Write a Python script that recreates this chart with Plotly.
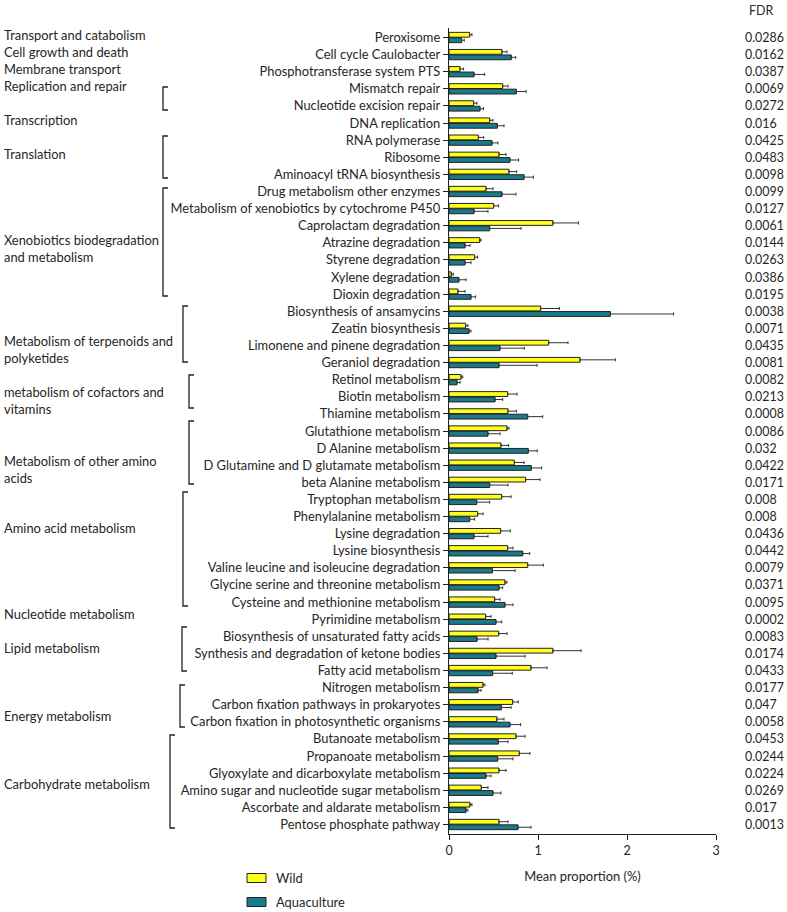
import plotly.graph_objects as go

pathways = [
    "Peroxisome", "Cell cycle Caulobacter", "Phosphotransferase system PTS",
    "Mismatch repair", "Nucleotide excision repair", "DNA replication",
    "RNA polymerase", "Ribosome", "Aminoacyl tRNA biosynthesis",
    "Drug metabolism other enzymes", "Metabolism of xenobiotics by cytochrome P450",
    "Caprolactam degradation", "Atrazine degradation", "Styrene degradation",
    "Xylene degradation", "Dioxin degradation",
    "Biosynthesis of ansamycins", "Zeatin biosynthesis",
    "Limonene and pinene degradation", "Geraniol degradation",
    "Retinol metabolism", "Biotin metabolism", "Thiamine metabolism",
    "Glutathione metabolism", "D Alanine metabolism",
    "D Glutamine and D glutamate metabolism", "beta Alanine metabolism",
    "Tryptophan metabolism", "Phenylalanine metabolism", "Lysine degradation",
    "Lysine biosynthesis", "Valine leucine and isoleucine degradation",
    "Glycine serine and threonine metabolism", "Cysteine and methionine metabolism",
    "Pyrimidine metabolism",
    "Biosynthesis of unsaturated fatty acids", "Synthesis and degradation of ketone bodies",
    "Fatty acid metabolism",
    "Nitrogen metabolism", "Carbon fixation pathways in prokaryotes",
    "Carbon fixation in photosynthetic organisms",
    "Butanoate metabolism", "Propanoate metabolism",
    "Glyoxylate and dicarboxylate metabolism", "Amino sugar and nucleotide sugar metabolism",
    "Ascorbate and aldarate metabolism", "Pentose phosphate pathway",
]

wild_mean = [
    0.232, 0.595, 0.124, 0.603, 0.277, 0.457, 0.330, 0.562, 0.674,
    0.416, 0.502, 1.168, 0.345, 0.288, 0.026, 0.101,
    1.030, 0.187, 1.120, 1.472,
    0.135, 0.659, 0.663,
    0.652, 0.584, 0.734, 0.861,
    0.592, 0.322, 0.580, 0.659, 0.884, 0.629, 0.513,
    0.412,
    0.558, 1.168, 0.921,
    0.382, 0.715, 0.539,
    0.753, 0.790, 0.562, 0.363, 0.236, 0.562,
]
wild_err = [
    0.026, 0.056, 0.040, 0.060, 0.037, 0.037, 0.060, 0.079, 0.086,
    0.079, 0.056, 0.288, 0.015, 0.034, 0.022, 0.079,
    0.210, 0.026, 0.217, 0.397,
    0.019, 0.105, 0.094,
    0.022, 0.086, 0.109, 0.161,
    0.105, 0.060, 0.109, 0.060, 0.176, 0.022, 0.060,
    0.060,
    0.094, 0.315, 0.180,
    0.022, 0.064, 0.079,
    0.101, 0.120, 0.079, 0.075, 0.022, 0.101,
]
aqua_mean = [
    0.142, 0.700, 0.281, 0.757, 0.348, 0.543, 0.483, 0.685, 0.843,
    0.595, 0.281, 0.457, 0.180, 0.180, 0.112, 0.247,
    1.813, 0.225, 0.573, 0.562,
    0.090, 0.517, 0.884,
    0.438, 0.891, 0.925, 0.457,
    0.311, 0.232, 0.281, 0.828, 0.487, 0.562, 0.629,
    0.528,
    0.315, 0.528, 0.490,
    0.326, 0.588, 0.685,
    0.554, 0.547, 0.416, 0.494, 0.191, 0.775,
]
aqua_err = [
    0.030, 0.050, 0.120, 0.110, 0.040, 0.075, 0.067, 0.097, 0.105,
    0.157, 0.157, 0.352, 0.056, 0.067, 0.079, 0.052,
    0.710, 0.022, 0.273, 0.427,
    0.034, 0.086, 0.169,
    0.135, 0.101, 0.116, 0.206,
    0.146, 0.056, 0.157, 0.079, 0.255, 0.041, 0.090,
    0.064,
    0.124, 0.326, 0.221,
    0.034, 0.109, 0.120,
    0.109, 0.172, 0.056, 0.090, 0.022, 0.146,
]
fdr = [
    "0.0286", "0.0162", "0.0387", "0.0069", "0.0272", "0.016", "0.0425", "0.0483",
    "0.0098", "0.0099", "0.0127", "0.0061", "0.0144", "0.0263", "0.0386", "0.0195",
    "0.0038", "0.0071", "0.0435", "0.0081", "0.0082", "0.0213", "0.0008", "0.0086",
    "0.032", "0.0422", "0.0171", "0.008", "0.008", "0.0436", "0.0442", "0.0079",
    "0.0371", "0.0095", "0.0002", "0.0083", "0.0174", "0.0433", "0.0177", "0.047",
    "0.0058", "0.0453", "0.0244", "0.0224", "0.0269", "0.017", "0.0013",
]

group_names = [
    "Transport and catabolism", "Cell growth and death", "Membrane transport",
    "Replication and repair", "Transcription", "Translation",
    "Xenobiotics biodegradation<br>and metabolism",
    "Metabolism of terpenoids and<br>polyketides",
    "metabolism of cofactors and<br>vitamins",
    "Metabolism of other amino<br>acids",
    "Amino acid metabolism", "Nucleotide metabolism", "Lipid metabolism",
    "Energy metabolism", "Carbohydrate metabolism",
]
# layout: pixel y-centre of each group label
group_label_y = [35, 52, 69, 86, 120, 154, 248, 349.5, 400.5, 469, 528, 614, 648, 716, 784]
# layout: brackets (x, y_top, y_bottom) in pixels
brackets = [
    (163, 87, 110), (163, 136, 178), (163, 188, 296),
    (183, 306, 362), (189, 375, 408), (189, 421, 484),
    (183, 492, 606), (182, 627, 671), (180, 685, 727), (170, 735, 828),
]

WILD_COLOR = "#FFFF1A"
AQUA_COLOR = "#1A7A8C"
TXT = "#262626"
FONT = "Lato"
FS = 12.9

L, T, R, B = 449, 28, 71, 78
W_FIG, H_FIG = 787, 912
PW, PH = W_FIG - L - R, H_FIG - T - B


def px(x):
    return (x - L) / PW


def py(y):
    return 1 - (y - T) / PH


fig = go.Figure()
fig.add_trace(go.Bar(
    y=pathways, x=wild_mean, orientation="h", name="Wild",
    marker=dict(color=WILD_COLOR, line=dict(color="#222", width=1)),
    error_x=dict(type="data", array=wild_err, arrayminus=[0] * len(wild_err),
                 symmetric=False, color="#333", thickness=1, width=1.5),
))
fig.add_trace(go.Bar(
    y=pathways, x=aqua_mean, orientation="h", name="Aquaculture",
    marker=dict(color=AQUA_COLOR, line=dict(color="#222", width=1)),
    error_x=dict(type="data", array=aqua_err, arrayminus=[0] * len(aqua_err),
                 symmetric=False, color="#333", thickness=1, width=1.5),
))

ann = []
shapes = []
for name, yy in zip(group_names, group_label_y):
    ann.append(dict(xref="paper", yref="paper", x=px(2), y=py(yy), text=name,
                    showarrow=False, xanchor="left", yanchor="middle", align="left",
                    font=dict(size=FS, color=TXT, family=FONT)))
for bx, y0, y1 in brackets:
    shapes.append(dict(type="path", xref="paper", yref="paper",
                       path=f"M {px(bx + 5)} {py(y0)} L {px(bx)} {py(y0)} L {px(bx)} {py(y1)} L {px(bx + 5)} {py(y1)}",
                       line=dict(color="#222", width=1.3)))
for cat, v in zip(pathways, fdr):
    ann.append(dict(xref="paper", yref="y", x=px(743), y=cat, text=v,
                    showarrow=False, xanchor="left", yanchor="middle",
                    font=dict(size=12.4, color=TXT, family=FONT)))
ann.append(dict(xref="paper", yref="paper", x=px(761), y=py(11), text="FDR",
                showarrow=False, xanchor="center", yanchor="middle",
                font=dict(size=12.4, color=TXT, family=FONT)))

# legend
for label, col, yy in [("Wild", WILD_COLOR, 878), ("Aquaculture", AQUA_COLOR, 902)]:
    shapes.append(dict(type="rect", xref="paper", yref="paper",
                       x0=px(247), x1=px(266), y0=py(yy - 4.5), y1=py(yy + 4.5),
                       fillcolor=col, line=dict(color="#222", width=1)))
    ann.append(dict(xref="paper", yref="paper", x=px(274), y=py(yy), text=label,
                    showarrow=False, xanchor="left", yanchor="middle",
                    font=dict(size=FS, color=TXT, family=FONT)))

fig.update_layout(
    width=W_FIG, height=H_FIG,
    margin=dict(l=L, r=R, t=T, b=B),
    paper_bgcolor="white", plot_bgcolor="white",
    barmode="group", bargap=0.36, bargroupgap=0.12,
    showlegend=False,
    font=dict(family=FONT, size=FS, color=TXT),
    annotations=ann, shapes=shapes,
    xaxis=dict(range=[0, 3], tickvals=[0, 1, 2, 3], showgrid=False, zeroline=False,
               showline=True, linecolor="#222", linewidth=1.3,
               ticks="outside", ticklen=5, tickcolor="#222",
               tickfont=dict(size=12.5, color=TXT),
               title=dict(text="Mean proportion (%)", standoff=14,
                          font=dict(size=FS, color=TXT))),
    yaxis=dict(autorange="reversed", showgrid=False, zeroline=False,
               showline=True, linecolor="#222", linewidth=1.3,
               ticks="outside", ticklen=5, tickcolor="#222",
               tickfont=dict(size=FS, color=TXT)),
)

fig.write_html("out.html", config={"displayModeBar": False},
               post_script="document.body.style.margin='0px';document.body.style.overflow='hidden';")
